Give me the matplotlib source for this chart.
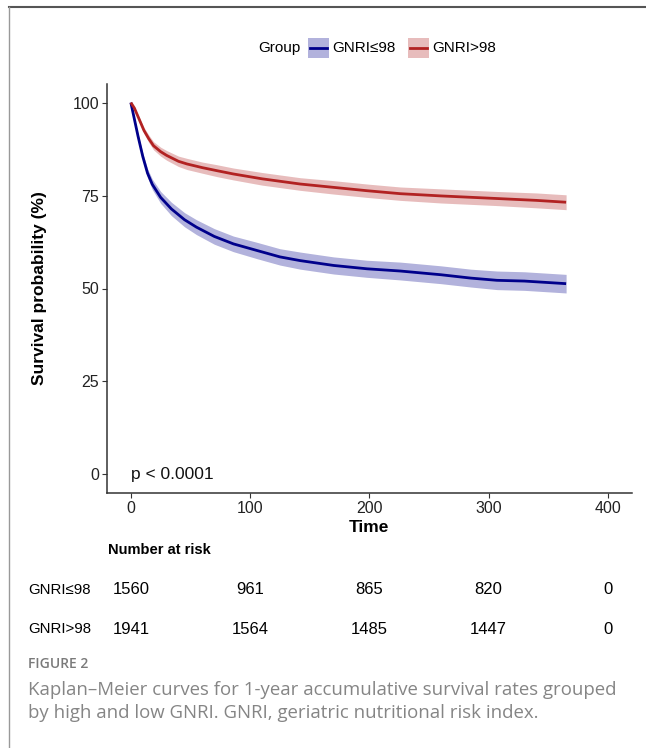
import matplotlib
matplotlib.use("Agg")
import matplotlib.pyplot as plt
from matplotlib.lines import Line2D
from matplotlib.patches import Rectangle

# Kaplan-Meier estimates (time in days, survival in %)
low_time = [0, 3, 6, 10, 14, 18, 25, 34, 45, 55, 70, 86, 106, 125, 142,
            170, 198, 226, 260, 285, 307, 330, 350, 365]
low_surv = [100, 95.5, 91, 85.5, 81, 78, 74.5, 71.4, 68.5, 66.5, 64, 62, 60.2,
            58.5, 57.5, 56.2, 55.3, 54.7, 53.7, 52.8, 52.2, 52.0, 51.6, 51.3]
low_ci = [0, 0.4, 0.7, 1.0, 1.2, 1.4, 1.6, 1.8, 1.9, 2.0, 2.1, 2.1, 2.2,
          2.2, 2.3, 2.3, 2.3, 2.4, 2.4, 2.4, 2.5, 2.5, 2.5, 2.5]

high_time = [0, 3, 7, 11, 15, 19, 25, 30, 40, 47, 60, 72, 86, 110, 142,
             170, 198, 226, 260, 307, 340, 365]
high_surv = [100, 98.5, 95.5, 92.5, 90.3, 88.4, 86.8, 85.8, 84.2, 83.5, 82.5,
             81.7, 80.8, 79.5, 78.1, 77.2, 76.3, 75.5, 74.9, 74.2, 73.7, 73.2]
high_ci = [0, 0.3, 0.6, 0.8, 1.0, 1.1, 1.2, 1.3, 1.4, 1.5, 1.5, 1.6, 1.6,
           1.7, 1.7, 1.8, 1.8, 1.8, 1.9, 1.9, 2.0, 2.0]

groups = ["GNRI≤98", "GNRI>98"]
colors = ["#00008B", "#B22222"]
risk_times = [0, 100, 200, 300, 400]
risk_low = [1560, 961, 865, 820, 0]
risk_high = [1941, 1564, 1485, 1447, 0]

plt.rcParams['font.family'] = ['Liberation Sans', 'DejaVu Sans']

fig = plt.figure(figsize=(6.46, 7.48), dpi=100)
W, H = 646, 748


def fx(px):
    return px / W


def fy(py):
    return 1 - py / H


ax = fig.add_axes([fx(107), fy(493), fx(631.7) - fx(107), fy(84) - fy(493)])

series = [(low_time, low_surv, low_ci), (high_time, high_surv, high_ci)]
for (t, s, ci), color in zip(series, colors):
    lo = [a - b for a, b in zip(s, ci)]
    hi = [a + b for a, b in zip(s, ci)]
    ax.fill_between(t, lo, hi, color=color, alpha=0.3, lw=0)
    ax.plot(t, s, color=color, lw=2.0, solid_capstyle='butt')

ax.set_xlim(-20, 420)
ax.set_ylim(-5, 105)
ax.set_xticks(risk_times)
ax.set_yticks([0, 25, 50, 75, 100])
for side in ['top', 'right']:
    ax.spines[side].set_visible(False)
for side in ['left', 'bottom']:
    ax.spines[side].set_color('#333333')
    ax.spines[side].set_linewidth(1.1)
ax.tick_params(colors='#333333', labelcolor='#222222', labelsize=11.5,
               length=3.5, width=0.8, direction='out', pad=2)
ax.set_xlabel("Time", fontsize=12.5, fontweight='bold', labelpad=3)
ax.text(0, 0, "p < 0.0001", fontsize=12.5, ha='left', va='center', color='#111111')
fig.text(fx(40), fy(288.5), "Survival probability (%)", rotation=90,
         fontsize=12.5, fontweight='bold', ha='center', va='center')

# legend on top
fig.text(fx(258), fy(48), "Group", fontsize=11, ha='left', va='center')
key_x = [308, 408]
for kx, label, color in zip(key_x, groups, colors):
    fig.patches.append(Rectangle((fx(kx), fy(58)), fx(21), fy(38) - fy(58),
                                 transform=fig.transFigure, facecolor=color,
                                 alpha=0.3, lw=0))
    fig.lines.append(Line2D([fx(kx + 2), fx(kx + 19)], [fy(48), fy(48)],
                            transform=fig.transFigure, color=color, lw=2.0))
    fig.text(fx(kx + 24), fy(48), label, fontsize=11, ha='left', va='center')

# number at risk table
tab = fig.add_axes([fx(107), fy(650), fx(631.7) - fx(107), fy(570) - fy(650)])
tab.set_xlim(-20, 420)
tab.set_ylim(0, 1)
tab.axis('off')
fig.text(fx(108), fy(550), "Number at risk", fontsize=10.5, fontweight='bold',
         ha='left', va='center')
rows = [(risk_low, 590), (risk_high, 629)]
for (vals, ypx), label in zip(rows, groups):
    yy = (650 - ypx) / 80
    for t, v in zip(risk_times, vals):
        tab.text(t, yy, str(v), fontsize=12, ha='center', va='center')
    fig.text(fx(28), fy(ypx), label, fontsize=10.8, ha='left', va='center')

# caption
cap_font = ['Open Sans', 'DejaVu Sans']
fig.text(fx(28), fy(664), "FIGURE 2", fontsize=10, color='#7a7a7a',
         fontweight='semibold', family=cap_font, ha='left', va='center')
cap_lines = ["Kaplan\u2013Meier curves for 1-year accumulative survival rates grouped",
             "by high and low GNRI. GNRI, geriatric nutritional risk index."]
for line, ypx in zip(cap_lines, [690, 713]):
    fig.text(fx(28), fy(ypx), line, fontsize=13.4, color='#858585',
             family=cap_font, ha='left', va='center')

# page frame
fig.lines.append(Line2D([fx(9), 1], [fy(7), fy(7)], transform=fig.transFigure,
                        color='#555555', lw=1.5))
fig.lines.append(Line2D([fx(9), fx(9)], [fy(7), 0], transform=fig.transFigure,
                        color='#999999', lw=1.0))

fig.savefig("out.png", dpi=100)
